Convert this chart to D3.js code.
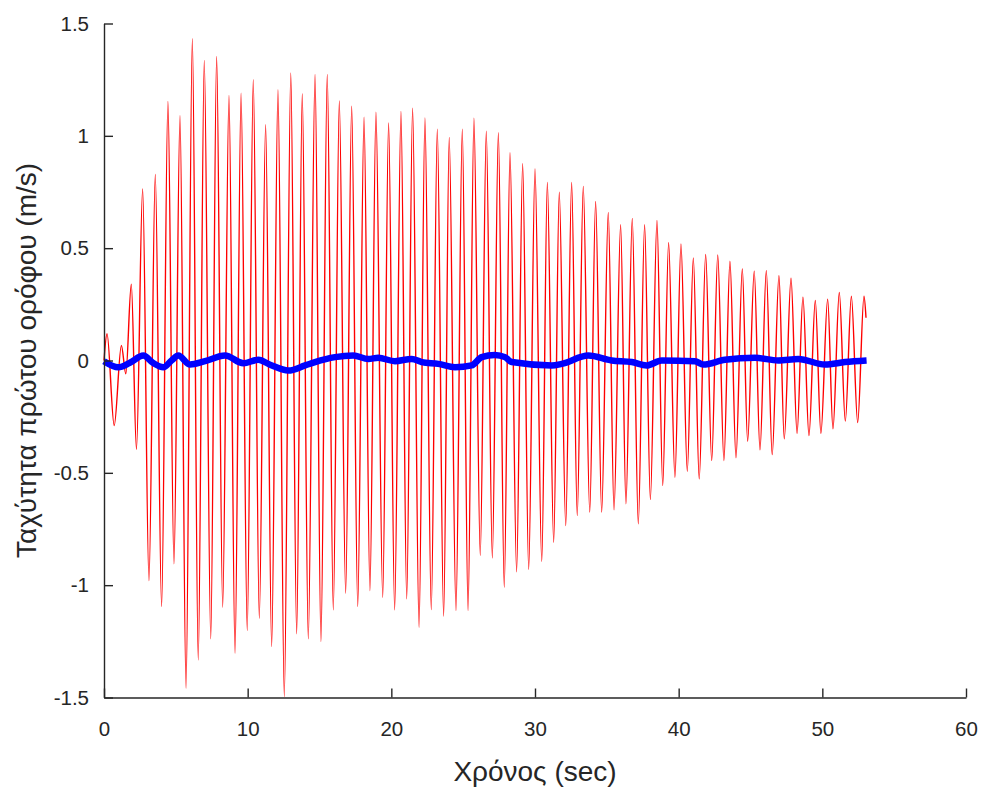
<!DOCTYPE html>
<html>
<head>
<meta charset="utf-8">
<script src="https://cdn.jsdelivr.net/npm/d3@7"></script>
<style>
  html, body { margin: 0; padding: 0; background: #ffffff; }
  svg { display: block; }
</style>
</head>
<body>
<div id="chart"></div>
<script>
// First-floor velocity: turning points (peaks and troughs) of the response, in seconds and m/s
const velocityTime = [
  0, 0.21, 0.71, 1.21, 1.52, 1.9, 2.26, 2.69, 3.13, 3.57,
  4.01, 4.45, 4.87, 5.29, 5.71, 6.15, 6.56, 6.98, 7.43, 7.84,
  8.26, 8.70, 9.12, 9.54, 9.97, 10.39, 10.81, 11.25, 11.67, 12.11,
  12.55, 13.0, 13.41, 13.8, 14.22, 14.69, 15.1, 15.54, 15.96, 16.38,
  16.82, 17.24, 17.66, 18.1, 18.51, 18.93, 19.4, 19.81, 20.23, 20.67,
  21.07, 21.48, 21.93, 22.34, 22.78, 23.2, 23.64, 24.03, 24.5, 24.94,
  25.34, 25.75, 26.19, 26.61, 27.03, 27.45, 27.86, 28.26, 28.72, 29.14,
  29.56, 30.0, 30.47, 30.86, 31.3, 31.69, 32.14, 32.55, 32.94, 33.36,
  33.81, 34.22, 34.64, 35.1, 35.5, 35.96, 36.33, 36.77, 37.19, 37.63,
  38.03, 38.49, 38.89, 39.3, 39.74, 40.16, 40.6, 41.02, 41.43, 41.88,
  42.3, 42.72, 43.15, 43.57, 43.99, 44.43, 44.8, 45.26, 45.66, 46.1,
  46.51, 46.98, 47.35, 47.82, 48.24, 48.65, 49.07, 49.51, 49.9, 50.37,
  50.74, 51.18, 51.6, 52.02, 52.46, 52.9, 53.04
];
const velocityValue = [
  0, 0.119, -0.289, 0.067, -0.059, 0.34, -0.395, 0.764, -0.98, 0.828,
  -1.095, 1.153, -0.905, 1.09, -1.459, 1.432, -1.333, 1.336, -1.239, 1.353,
  -1.098, 1.18, -1.303, 1.19, -1.202, 1.25, -1.147, 1.05, -1.273, 1.205,
  -1.496, 1.28, -1.217, 1.187, -1.239, 1.273, -1.251, 1.273, -1.11, 1.155,
  -1.036, 1.132, -1.095, 1.083, -1.024, 1.105, -1.054, 1.057, -1.11, 1.109,
  -1.061, 1.123, -1.187, 1.08, -1.109, 1.03, -1.138, 0.993, -1.113, 1.03,
  -1.113, 1.079, -0.868, 1.021, -0.879, 1.014, -1.009, 0.925, -0.94, 0.876,
  -0.93, 0.853, -0.895, 0.793, -0.809, 0.749, -0.735, 0.793, -0.69, 0.775,
  -0.675, 0.708, -0.675, 0.659, -0.665, 0.605, -0.638, 0.632, -0.727, 0.604,
  -0.619, 0.623, -0.557, 0.525, -0.52, 0.519, -0.493, 0.457, -0.527, 0.472,
  -0.445, 0.47, -0.445, 0.442, -0.433, 0.408, -0.359, 0.398, -0.398, 0.4,
  -0.419, 0.377, -0.349, 0.366, -0.324, 0.282, -0.334, 0.267, -0.324, 0.273,
  -0.304, 0.303, -0.27, 0.286, -0.276, 0.286, 0.19
];

// Slowly varying (controlled) velocity trace
const controlledTime = [
  0, 1.0, 1.8, 2.74, 3.4, 4.13, 4.7, 5.17, 5.99, 7.03,
  8.42, 9.7, 10.74, 11.6, 12.83, 14.0, 14.69, 16.08, 17.35, 18.4,
  19.09, 20.25, 21.42, 22.11, 23.27, 24.43, 25.59, 26.29, 27.21, 27.91,
  28.38, 31.16, 31.86, 33.71, 35.34, 36.73, 37.77, 38.82, 41.13, 41.71,
  43.22, 45.31, 46.93, 48.33, 50.18, 51.58, 53.08
];
const controlledValue = [
  -0.003, -0.03, -0.01, 0.022, -0.01, -0.03, 0.0, 0.022, -0.018, -0.003,
  0.022, -0.012, 0.003, -0.02, -0.045, -0.022, -0.007, 0.015, 0.022, 0.007,
  0.012, -0.003, 0.007, -0.007, -0.015, -0.03, -0.022, 0.015, 0.025, 0.015,
  -0.007, -0.022, -0.015, 0.022, 0.0, -0.007, -0.022, 0.0, -0.003, -0.018,
  0.003, 0.012, 0.0, 0.007, -0.018, -0.007, 0.0
];

const xTicks = [0, 10, 20, 30, 40, 50, 60];
const yTicks = [-1.5, -1, -0.5, 0, 0.5, 1, 1.5];
const xLabel = "Χρόνος (sec)";
const yLabel = "Ταχύτητα πρώτου ορόφου (m/s)";

const width = 985, height = 792;
const margin = { left: 104, right: 19, top: 23.5, bottom: 94.5 };
const axisColor = "#262626";
const fontFamily = "'Liberation Sans', Arial, Helvetica, sans-serif";

const svg = d3.select("#chart").append("svg")
  .attr("width", width).attr("height", height);

const x = d3.scaleLinear().domain([0, 60]).range([margin.left, width - margin.right]);
const y = d3.scaleLinear().domain([-1.5, 1.5]).range([height - margin.bottom, margin.top]);

const fmt = d => (d === 0 ? "0" : String(d));

// Data traces
const velocity = velocityTime.map((t, i) => [t, velocityValue[i]]);
const controlled = controlledTime.map((t, i) => [t, controlledValue[i]]);

svg.append("path")
  .datum(velocity)
  .attr("fill", "none")
  .attr("stroke", "#ff0000")
  .attr("stroke-width", 1.4)
  .attr("stroke-linejoin", "round")
  .attr("d", d3.line().x(d => x(d[0])).y(d => y(d[1])).curve(d3.curveMonotoneX));

svg.append("path")
  .datum(controlled)
  .attr("fill", "none")
  .attr("stroke", "#0000ff")
  .attr("stroke-width", 6.5)
  .attr("stroke-linejoin", "round")
  .attr("d", d3.line().x(d => x(d[0])).y(d => y(d[1])).curve(d3.curveMonotoneX));

// Axes with inward ticks
const xAxis = d3.axisBottom(x).tickValues(xTicks).tickFormat(fmt).tickSizeInner(-9).tickSizeOuter(0).tickPadding(24);
const yAxis = d3.axisLeft(y).tickValues(yTicks).tickFormat(fmt).tickSizeInner(-9).tickSizeOuter(0).tickPadding(15);

const gx = svg.append("g")
  .attr("transform", `translate(0,${height - margin.bottom})`)
  .call(xAxis);
const gy = svg.append("g")
  .attr("transform", `translate(${margin.left},0)`)
  .call(yAxis);

[gx, gy].forEach(g => {
  g.select(".domain").attr("stroke", axisColor).attr("stroke-width", 1.4);
  g.selectAll(".tick line").attr("stroke", axisColor).attr("stroke-width", 1.4);
  g.selectAll(".tick text")
    .attr("fill", axisColor)
    .style("font-family", fontFamily)
    .style("font-size", "20.5px");
});
gx.selectAll(".tick text").attr("dy", "0.71em");

// Axis titles
svg.append("text")
  .attr("x", (x(0) + x(60)) / 2)
  .attr("y", 781)
  .attr("text-anchor", "middle")
  .attr("fill", axisColor)
  .style("font-family", fontFamily)
  .style("font-size", "28px")
  .text(xLabel);

svg.append("text")
  .attr("transform", `translate(36,${(y(-1.5) + y(1.5)) / 2}) rotate(-90)`)
  .attr("text-anchor", "middle")
  .attr("fill", axisColor)
  .style("font-family", fontFamily)
  .style("font-size", "28px")
  .text(yLabel);
</script>
</body>
</html>
